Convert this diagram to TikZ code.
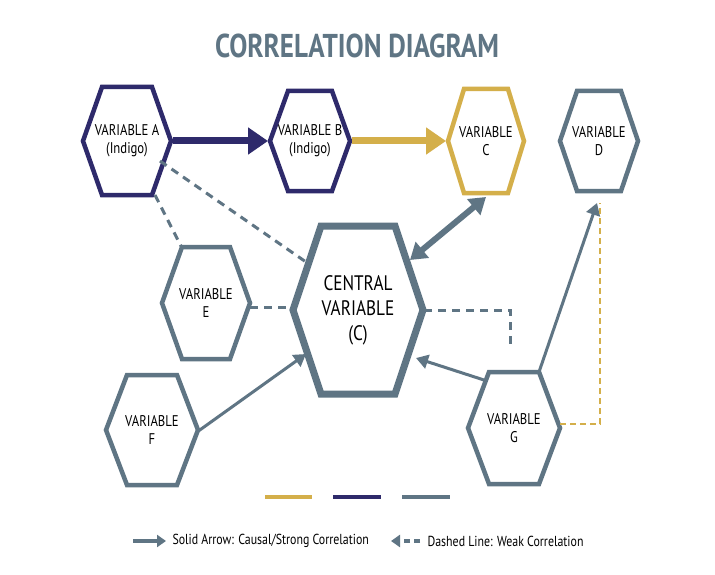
\documentclass[tikz,border=0pt]{standalone}
\usepackage{fontspec}
\setmainfont{PT Sans}
\newfontfamily\condfont[FakeStretch=0.82]{PT Sans}
\usetikzlibrary{arrows.meta,calc}
\definecolor{indigo}{HTML}{2E2A6B}
\definecolor{gold}{HTML}{D4AF4A}
\definecolor{slate}{HTML}{5F7584}
\tikzset{
  varlabel/.style={align=center,font=\condfont\fontsize{15.5}{18}\selectfont,text=black},
  hexline/.style={line width=4.5pt,line join=miter},
  strong/.style={line width=7pt,-{Triangle[length=20pt,width=26pt]}},
  solid arrow/.style={line width=3pt,slate,-{Triangle[length=12pt,width=14pt]}},
  weak/.style={line width=3pt,slate,dash pattern=on 8pt off 6pt},
}
% hexagon round a node: style, node, half width, half height, half top
\newcommand\hexa[5]{\draw[#1] ([shift={(-#3,0)}]#2.center) -- ([shift={(-#5,-#4)}]#2.center)
  -- ([shift={(#5,-#4)}]#2.center) -- ([shift={(#3,0)}]#2.center)
  -- ([shift={(#5,#4)}]#2.center) -- ([shift={(-#5,#4)}]#2.center) -- cycle;}
\begin{document}
\begin{tikzpicture}[x=1pt,y=-1pt]
    \useasboundingbox[fill=white] (0,0) rectangle (715,575);
    \node[font=\condfont\bfseries\fontsize{33}{35}\selectfont,text=slate] (title) at (357,46) {CORRELATION DIAGRAM};

    \node[varlabel] (A) at (127,141) {VARIABLE A\\(Indigo)};
    \node[varlabel] (B) at (310,141) {VARIABLE B\\(Indigo)};
    \node[varlabel] (C) at (486,141) {VARIABLE\\C};
    \node[varlabel] (D) at (599,141) {VARIABLE\\D};
    \node[varlabel,font=\condfont\fontsize{21}{25}\selectfont] (cen) at (358,310) {CENTRAL\\VARIABLE\\(C)};
    \node[varlabel] (E) at (206,303) {VARIABLE\\E};
    \node[varlabel] (F) at (152,430) {VARIABLE\\F};
    \node[varlabel] (G) at (514,428) {VARIABLE\\G};

    \hexa{hexline,indigo}{A}{44}{54}{25}
    \hexa{hexline,indigo}{B}{40}{50}{22}
    \hexa{hexline,gold}{C}{38}{52}{22}
    \hexa{hexline,slate}{D}{39}{50}{22}
    \hexa{line width=7pt,slate}{cen}{65}{84}{37}
    \hexa{hexline,slate}{E}{44}{56}{24}
    \hexa{hexline,slate}{F}{46}{55}{25}
    \hexa{hexline,slate}{G}{46}{56}{25}

    % strong links
    \draw[strong,indigo] ([xshift=46]A.center) -- ([xshift=-42]B.center);
    \draw[strong,gold] ([xshift=42]B.center) -- ([xshift=-40]C.center);
    \draw[line width=6pt,slate,{Triangle[length=16pt,width=20pt]}-{Triangle[length=16pt,width=20pt]}]
        ([shift={(0,56)}]C.center) -- ([shift={(52,-50)}]cen.center);
    \draw[solid arrow] ([shift={(45,2)}]F.center) -- ([shift={(-52,44)}]cen.center);
    \draw[solid arrow] ([shift={(-30,-48)}]G.center) -- ([shift={(58,48)}]cen.center);
    \draw[solid arrow] ([shift={(25,-56)}]G.center) -- ([shift={(-2,62)}]D.center);

    % weak links
    \draw[weak] ([shift={(33,20)}]A.center) -- ([shift={(-52,-48)}]cen.center);
    \draw[weak] ([shift={(28,54)}]A.center) -- ([shift={(-24,-55)}]E.center);
    \draw[weak] ([shift={(44,4)}]E.center) -- ([shift={(-65,-3)}]cen.center);
    \draw[weak] ([xshift=66]cen.center) -| ([shift={(152,35)}]cen.center);
    \draw[line width=2pt,gold,dash pattern=on 6pt off 4pt] ([xshift=46,yshift=4]G.center) -| ([shift={(1,62)}]D.center);

    % legend
    \draw[line width=4pt,gold] (265,497) coordinate (l1) -- (312,497) coordinate (l2);
    \draw[line width=4pt,indigo] (333,497) coordinate (l3) -- (381,497) coordinate (l4);
    \draw[line width=4pt,slate] (402,497) coordinate (l5) -- (450,497) coordinate (l6);
    \coordinate (s0) at (133,541);
    \coordinate (s1) at (166,541);
    \draw[line width=4pt,slate,-{Triangle[length=9pt,width=12pt]}] (s0) -- (s1);
    \node[anchor=west,font=\condfont\fontsize{14.5}{16}\selectfont] (solidtxt) at (169,541) {Solid Arrow: Causal/Strong Correlation};
    \coordinate (d0) at (420,541);
    \coordinate (d1) at (391,541);
    \draw[line width=4pt,slate,dash pattern=on 6pt off 4pt,-{Triangle[length=9pt,width=12pt]}] (d0) -- (d1);
    \node[anchor=west,font=\condfont\fontsize{14.5}{16}\selectfont] (dashtxt) at (424,541) {Dashed Line: Weak Correlation};
\end{tikzpicture}
\end{document}
